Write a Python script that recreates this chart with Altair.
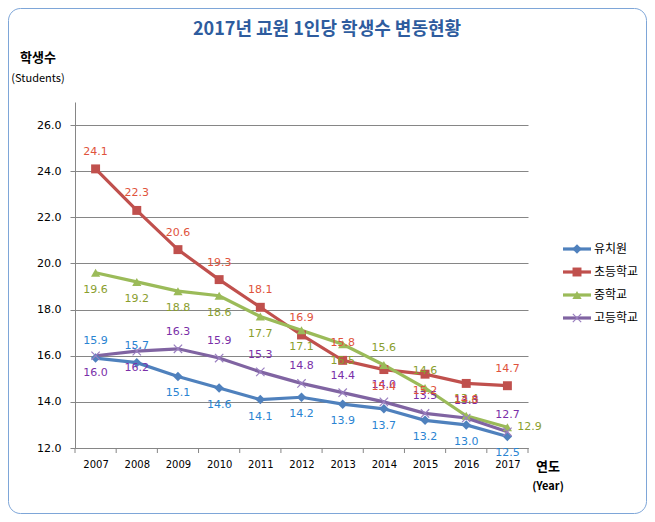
import altair as alt
import pandas as pd

years = [2007, 2008, 2009, 2010, 2011, 2012, 2013, 2014, 2015, 2016, 2017]
series = ["유치원", "초등학교", "중학교", "고등학교"]
kinder = [15.9, 15.7, 15.1, 14.6, 14.1, 14.2, 13.9, 13.7, 13.2, 13.0, 12.5]
elem = [24.1, 22.3, 20.6, 19.3, 18.1, 16.9, 15.8, 15.4, 15.2, 14.8, 14.7]
middle = [19.6, 19.2, 18.8, 18.6, 17.7, 17.1, 16.5, 15.6, 14.6, 13.4, 12.9]
high = [16.0, 16.2, 16.3, 15.9, 15.3, 14.8, 14.4, 14.0, 13.5, 13.3, 12.7]
values = [kinder, elem, middle, high]
y_ticks = [12, 14, 16, 18, 20, 22, 24, 26]

line_colors = ["#4F81BD", "#C0504D", "#9BBB59", "#8064A2"]
label_colors = ["#2A84D2", "#E0533C", "#8A9E2E", "#7A2FA8"]
label_pos = [
    ["a", "a", "b", "b", "b", "b", "b", "b", "b", "b", "b"],
    ["a", "a", "a", "a", "a", "a", "a", "b", "b", "b", "a"],
    ["b", "b", "b", "b", "b", "b", "b", "a", "a", "a", "r"],
    ["b", "b", "a", "a", "a", "a", "a", "a", "a", "a", "a"],
]
shapes = ["diamond", "square", "triangle-up", "M-1,-1L1,1M-1,1L1,-1"]

rows = []
for si, s in enumerate(series):
    for yi, yr in enumerate(years):
        rows.append({"year": yr, "value": values[si][yi], "series": s, "order": si,
                     "pos": label_pos[si][yi], "lcolor": label_colors[si],
                     "label": f"{values[si][yi]:.1f}"})
df = pd.DataFrame(rows)

W, H = 453, 346
FONT_NUM = "DejaVu Sans"
FONT_KR = "Noto Sans CJK KR"

x_enc = alt.X("year:Q", scale=alt.Scale(domain=[2006.5, 2017.5], nice=False, zero=False),
              axis=alt.Axis(values=years, format="d", tickSize=0, labelPadding=11, title=None,
                            grid=False, domainColor="#868686", labelFont=FONT_NUM,
                            labelFontSize=10, labelColor="#000000"))
y_enc = alt.Y("value:Q", scale=alt.Scale(domain=[12, 27], nice=False, zero=False),
              axis=alt.Axis(values=y_ticks, format=".1f", tickSize=5, tickColor="#868686",
                            labelPadding=9, grid=True, gridColor="#868686", domainColor="#868686",
                            title=None, labelFont=FONT_NUM, labelFontSize=11, labelColor="#000000"))
color_enc = alt.Color("series:N", scale=alt.Scale(domain=series, range=line_colors), legend=None)

one = pd.DataFrame({"a": [0]})

border = alt.Chart(one).mark_rect(fillOpacity=0, stroke="#7EA6D8", strokeWidth=1, cornerRadius=12).encode(
    x=alt.value(-66.5), x2=alt.value(W + 119 - 0.5), y=alt.value(-93.5), y2=alt.value(H + 66 - 0.5))

base = alt.Chart(df)
lines = base.mark_line(strokeWidth=3.2).encode(x=x_enc, y=y_enc, color=color_enc, detail="series:N",
                                               order="year:Q")

layers = [border, lines]
for si, s in enumerate(series):
    filled = si < 3
    size = [90, 80, 85, 70][si]
    pt = base.transform_filter(alt.datum.series == s).mark_point(
        shape=shapes[si], filled=filled, size=size, opacity=1,
        color=line_colors[si] if filled else "#9A7FC0", strokeWidth=1.2).encode(x=x_enc, y=y_enc)
    layers.append(pt)

txt_common = dict(font=FONT_NUM, fontSize=11, baseline="middle")
for p, kw in [("a", dict(dy=-17)), ("b", dict(dy=17)), ("r", dict(dx=22))]:
    t = base.transform_filter(alt.datum.pos == p).mark_text(**txt_common, **kw).encode(
        x=x_enc, y=y_enc, text="label:N", color=alt.Color("lcolor:N", scale=None))
    layers.append(t)

# Year-boundary tick marks on the x axis
bounds = pd.DataFrame({"b": [y - 0.5 for y in years] + [years[-1] + 0.5]})
ticks = alt.Chart(bounds).mark_rule(color="#868686").encode(
    x=alt.X("b:Q"), y=alt.value(H), y2=alt.value(H + 5))
layers.append(ticks)

# Manual legend
leg_y = [147, 170, 193, 216]
for si, s in enumerate(series):
    lg = alt.Chart(one)
    layers.append(lg.mark_rule(color=line_colors[si], strokeWidth=3.2).encode(
        x=alt.value(488), x2=alt.value(516), y=alt.value(leg_y[si])))
    filled = si < 3
    layers.append(lg.mark_point(shape=shapes[si], filled=filled, size=[90, 80, 85, 70][si], opacity=1,
                                color=line_colors[si] if filled else "#9A7FC0", strokeWidth=1.2).encode(
        x=alt.value(502), y=alt.value(leg_y[si])))
    layers.append(lg.mark_text(text=s, font=FONT_KR, fontSize=12, align="left", baseline="middle",
                               color="#000000").encode(x=alt.value(519), y=alt.value(leg_y[si])))

# Titles
layers.append(alt.Chart(one).mark_text(text="2017년 교원 1인당 학생수 변동현황", font=FONT_KR, fontSize=18,
                                       fontWeight="bold", color="#2E5C9E", baseline="middle").encode(
    x=alt.value(252), y=alt.value(-72)))
layers.append(alt.Chart(one).mark_text(text="학생수", font=FONT_KR, fontSize=13, fontWeight="bold",
                                       color="#000000", baseline="middle").encode(
    x=alt.value(-37), y=alt.value(-44)))
layers.append(alt.Chart(one).mark_text(text="(Students)", font=FONT_KR, fontSize=11,
                                       color="#000000", baseline="middle").encode(
    x=alt.value(-37), y=alt.value(-23)))
layers.append(alt.Chart(one).mark_text(text="연도", font=FONT_KR, fontSize=13, fontWeight="bold",
                                       color="#000000", baseline="middle").encode(
    x=alt.value(473), y=alt.value(H + 19)))
layers.append(alt.Chart(one).mark_text(text="(Year)", font=FONT_KR, fontSize=11, fontWeight="bold",
                                       color="#000000", baseline="middle").encode(
    x=alt.value(473), y=alt.value(H + 39)))

chart = alt.layer(*layers).properties(
    width=W, height=H,
    autosize=alt.AutoSizeParams(type="none"),
    padding={"left": 67, "top": 94, "right": 119, "bottom": 66},
    background="white",
).configure_view(stroke=None)

chart.save("out.html", embed_options={"renderer": "svg", "actions": False})
